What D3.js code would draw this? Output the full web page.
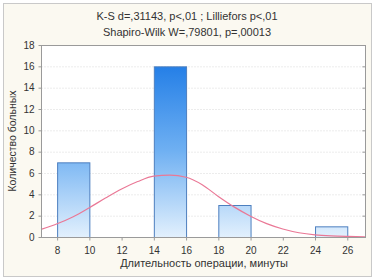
<!DOCTYPE html>
<html>
<head>
<meta charset="utf-8">
<script src="https://cdn.jsdelivr.net/npm/d3@7"></script>
<style>
  html, body { margin: 0; padding: 0; background: #fff; }
  svg { display: block; font-family: Arial, "Liberation Sans", sans-serif; }
</style>
</head>
<body>
<div id="chart"></div>
<script>
// гистограмма: интервалы (мин) и число больных
const binStarts = [8, 10, 12, 14, 16, 18, 20, 22, 24];
const binCounts = [7, 0, 0, 16, 0, 3, 0, 0, 1];
const binWidth = 2;
const xTicks = [8, 10, 12, 14, 16, 18, 20, 22, 24, 26];
const yTicks = [0, 2, 4, 6, 8, 10, 12, 14, 16, 18];
// кривая нормального распределения
const curveX = [7, 8, 9, 10, 11, 12, 13, 14, 15, 16, 17, 18, 19, 20, 21, 22, 23, 24, 25, 26, 27.1];
const curveY = [0.72, 1.24, 1.9, 2.75, 3.65, 4.5, 5.2, 5.7, 5.8, 5.6, 4.9, 3.8, 2.8, 1.95, 1.25, 0.75, 0.4, 0.2, 0.1, 0.05, 0.02];
const titleLines = ["K-S d=,31143, p<,01 ; Lilliefors p<,01", "Shapiro-Wilk W=,79801, p=,00013"];
const xTitle = "Длительность операции, минуты";
const yTitle = "Количество больных";

const width = 375, height = 279;
const padding = { top: 45, right: 10, bottom: 42, left: 41 };

const svg = d3.select("#chart").append("svg").attr("width", width).attr("height", height);

// фон и рамка
svg.append("rect").attr("x", 3.5).attr("y", 3.5).attr("width", width - 7).attr("height", height - 6)
  .attr("fill", "#fbf9f1").attr("stroke", "#c9c9c9");

const x = d3.scaleLinear().domain([7, 27.1]).range([padding.left, width - padding.right]);
const y = d3.scaleLinear().domain([0, 18]).range([height - padding.bottom, padding.top]);

// градиент столбцов по всей высоте графика
const defs = svg.append("defs");
const grad = defs.append("linearGradient").attr("id", "barGrad")
  .attr("gradientUnits", "userSpaceOnUse")
  .attr("x1", 0).attr("x2", 0).attr("y1", y(18)).attr("y2", y(0));
grad.append("stop").attr("offset", "0%").attr("stop-color", "#1273e4");
grad.append("stop").attr("offset", "55%").attr("stop-color", "#6fb0f2");
grad.append("stop").attr("offset", "100%").attr("stop-color", "#e2f0fd");

// область графика
svg.append("rect").attr("x", x(7)).attr("y", y(18)).attr("width", x(27.1) - x(7)).attr("height", y(0) - y(18))
  .attr("fill", "#fff");

// сетка
svg.append("g").selectAll("line").data(yTicks.slice(1, -1)).enter().append("line")
  .attr("x1", x(7)).attr("x2", x(27.1)).attr("y1", d => y(d) + 0.5).attr("y2", d => y(d) + 0.5)
  .attr("stroke", "#ececec").attr("stroke-dasharray", "2,1");

// столбцы
svg.append("g").selectAll("rect").data(binStarts.map((d, i) => ({ x0: d, count: binCounts[i] })).filter(d => d.count > 0))
  .enter().append("rect")
  .attr("x", d => x(d.x0) + 0.5)
  .attr("y", d => y(d.count) + 0.5)
  .attr("width", d => x(d.x0 + binWidth) - x(d.x0))
  .attr("height", d => y(0) - y(d.count))
  .attr("fill", "url(#barGrad)")
  .attr("stroke", "#4d7fbf").attr("stroke-width", 1);

// кривая
const line = d3.line().x(d => x(d[0])).y(d => y(d[1])).curve(d3.curveMonotoneX);
svg.append("path").datum(curveX.map((d, i) => [d, curveY[i]]))
  .attr("d", line).attr("fill", "none").attr("stroke", "#ea7896").attr("stroke-width", 1.2);

// рамка области
svg.append("rect").attr("x", x(7) + 0.5).attr("y", y(18) + 0.5).attr("width", x(27.1) - x(7)).attr("height", y(0) - y(18))
  .attr("fill", "none").attr("stroke", "#9a9a9a");

// оси
const axisStyle = g => {
  g.select(".domain").remove();
  g.selectAll("line").attr("stroke", "#9a9a9a");
  g.selectAll("text").attr("fill", "#333").attr("font-size", "10px").attr("font-family", "Arial, 'Liberation Sans', sans-serif");
};
svg.append("g").attr("transform", `translate(0,${y(0) + 0.5})`)
  .call(d3.axisBottom(x).tickValues(xTicks).tickSize(3).tickPadding(6)).call(axisStyle);
svg.append("g").attr("transform", `translate(${x(7) + 0.5},0)`)
  .call(d3.axisLeft(y).tickValues(yTicks).tickSize(3).tickPadding(4)).call(axisStyle);
svg.append("g").attr("transform", `translate(${x(27.1) + 0.5},0)`)
  .call(d3.axisLeft(y).tickValues(yTicks).tickSize(3).tickFormat("")).call(axisStyle);

// заголовки
svg.append("g").selectAll("text").data(titleLines).enter().append("text")
  .attr("x", 187).attr("y", (d, i) => 20 + i * 15.5)
  .attr("text-anchor", "middle").attr("font-size", "11px").attr("fill", "#333").text(d => d);

svg.append("text").attr("x", 204).attr("y", 267).attr("text-anchor", "middle")
  .attr("font-size", "11px").attr("fill", "#333").text(xTitle);

svg.append("text").attr("transform", `translate(16,${(y(0) + y(18)) / 2}) rotate(-90)`)
  .attr("text-anchor", "middle").attr("font-size", "10.5px").attr("fill", "#333").text(yTitle);
</script>
</body>
</html>
